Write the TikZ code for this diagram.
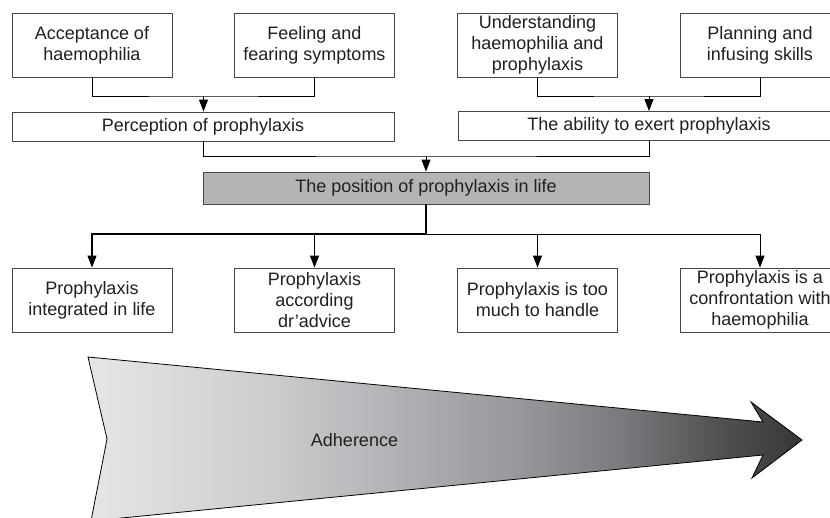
\documentclass[tikz,border=0pt]{standalone}
\usepackage{fontspec}
\setmainfont{Liberation Sans}
\usetikzlibrary{arrows.meta}
\definecolor{boxline}{RGB}{70,70,70}
\definecolor{centralfill}{RGB}{180,180,182}
\definecolor{txt}{RGB}{35,31,32}
\definecolor{sA}{RGB}{229,230,232}
\definecolor{sB}{RGB}{204,205,207}
\definecolor{sC}{RGB}{174,175,178}
\definecolor{sD}{RGB}{152,152,156}
\definecolor{sE}{RGB}{122,122,126}
\definecolor{sF}{RGB}{82,82,85}
\definecolor{sG}{RGB}{55,55,57}
\pgfdeclarehorizontalshading{adhshade}{100bp}{color(0bp)=(sA); color(25bp)=(sA); color(37.5bp)=(sB); color(47.5bp)=(sC); color(55bp)=(sD); color(62.5bp)=(sE); color(69bp)=(sF); color(75bp)=(sG); color(100bp)=(sG)}
\tikzset{
  box/.style={draw=boxline, line width=0.9pt, fill=white, align=center, text=txt,
    font=\fontsize{18}{21}\selectfont, inner sep=0pt},
  smallbox/.style={box, minimum width=160pt, minimum height=64pt},
  widebox/.style={box, minimum width=382pt, minimum height=29pt},
  conn/.style={draw=black, line width=0.9pt},
  arr/.style={conn, -{Triangle[width=9pt,length=12pt]}}
}
\begin{document}
\begin{tikzpicture}[x=1pt,y=-1pt]
\useasboundingbox (0,0) rectangle (830,517);
\clip (0,0) rectangle (830,517);

% top row
\node[smallbox] (A) at (92,45) {Acceptance of\\haemophilia};
\node[smallbox] (B) at (314.5,45) {Feeling and\\fearing symptoms};
\node[smallbox] (C) at (537.5,45) {Understanding\\haemophilia and\\prophylaxis};
\node[smallbox] (D) at (760,45) {Planning and\\infusing skills};

% second row
\node[widebox] (P) at (203,126.5) {Perception of prophylaxis};
\node[widebox] (Q) at (649,126) {The ability to exert prophylaxis};

% central
\node[box, fill=centralfill, minimum width=446pt, minimum height=32pt] (M) at (426,188) {The position of prophylaxis in life};

% bottom row
\node[smallbox] (E) at (92,300) {Prophylaxis\\integrated in life};
\node[smallbox] (F) at (314.5,300) {Prophylaxis\\according\\dr'advice};
\node[smallbox] (G) at (537.5,300) {Prophylaxis is too\\much to handle};
\node[smallbox] (H) at (760,300) {Prophylaxis is a\\confrontation with\\haemophilia};

% connectors
\coordinate (j1) at (203.5,96);
\draw[conn] (A.south) |- (j1) -| (B.south);
\draw[arr] (j1) -- (j1 |- P.north);

\coordinate (j2) at (649,96);
\draw[conn] (C.south) |- (j2) -| (D.south);
\draw[arr] (j2) -- (j2 |- Q.north);

\coordinate (j3) at (426,156);
\draw[conn] (P.south) |- (j3) -| (Q.south);
\draw[arr] (j3) -- (j3 |- M.north);

\coordinate (j4) at (426,234);
\draw[conn, line width=1.8pt] (M.south) -- (j4);
\draw[arr, line width=1.2pt] (j4) -| (E.north);
\draw[arr, line width=1.2pt] (j4) -| (F.north);
\draw[arr] (j4) -| (G.north);
\draw[arr] (j4) -| (H.north);

% adherence arrow
\path[shading=adhshade, draw=black, line width=0.8pt, line join=miter]
  (88,357) -- (763,422) -- (751,402) -- (802,440) -- (752,478) -- (763,455)
  -- (91,521) -- (107,439) -- cycle;
\node[text=txt, font=\fontsize{18}{21}\selectfont, inner sep=0pt] (adh) at (354.5,440) {Adherence};
\end{tikzpicture}
\end{document}
